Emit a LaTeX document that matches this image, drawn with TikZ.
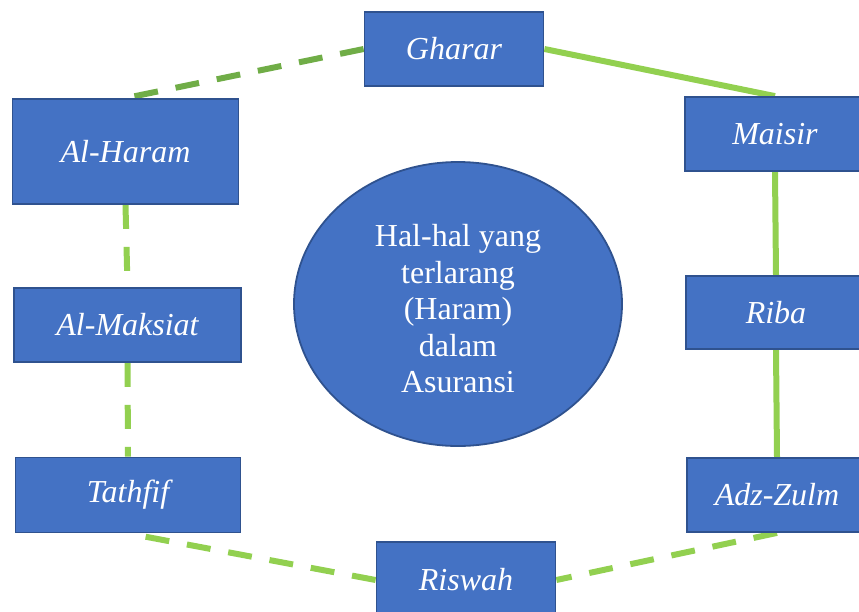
\documentclass[tikz,border=0pt]{standalone}
\usepackage{fontspec}
\setmainfont{Liberation Serif}
\usetikzlibrary{shapes.geometric,backgrounds}
\definecolor{boxfill}{HTML}{4472C4}
\definecolor{boxedge}{HTML}{2F528F}
\definecolor{darkgreen}{HTML}{70AD47}
\definecolor{lightgreen}{HTML}{92D050}
\tikzset{
  itembox/.style={rectangle, draw=boxedge, fill=boxfill, line width=1.8pt,
    inner sep=0pt, text=white, font=\fontsize{32}{38}\selectfont\itshape},
  centerell/.style={ellipse, draw=boxedge, fill=boxfill, line width=1.8pt,
    inner sep=0pt},
  centertxt/.style={text=white, align=center, inner sep=0pt,
    font=\fontsize{32}{36.5}\selectfont},
  dashlink/.style={line width=6pt, dash pattern=on 24pt off 18pt},
  solidlink/.style={line width=6pt, draw=lightgreen},
}
\begin{document}
\begin{tikzpicture}[x=1pt,y=-1pt]
\useasboundingbox (0,0) rectangle (859,611);
\clip (0,0) rectangle (859,611);
% boxes
\node[itembox, minimum width=179pt, minimum height=74pt] (gharar) at (454,49) {Gharar};
\node[itembox, minimum width=226pt, minimum height=105pt] (haram) at (125.5,151.5) {\raisebox{-3pt}{Al-Haram}};
\node[itembox, minimum width=227pt, minimum height=74pt] (maksiat) at (127.5,325) {Al-Maksiat};
\node[itembox, minimum width=225pt, minimum height=75pt] (tathfif) at (128,495) {Tathfif};
\node[itembox, minimum width=179pt, minimum height=76pt] (riswah) at (466,580) {Riswah};
\node[itembox, minimum width=180pt, minimum height=74pt] (maisir) at (775,134) {Maisir};
\node[itembox, minimum width=180pt, minimum height=73pt] (riba) at (776,312.5) {Riba};
\node[itembox, minimum width=180pt, minimum height=74pt] (zulm) at (777,495) {Adz-Zulm};
\node[centerell, minimum width=328pt, minimum height=284pt] (center) at (458,304) {};
\node[centertxt] (centertext) at (458,309)
  {Hal-hal yang\\terlarang\\(Haram)\\dalam\\Asuransi};
% connectors
\begin{scope}[on background layer]
\draw[dashlink, draw=darkgreen] (gharar.west) -- (haram.north);
\draw[solidlink] (gharar.east) -- (maisir.north);
\draw[solidlink] (maisir.south) -- (riba.north);
\draw[solidlink] (riba.south) -- (zulm.north);
\draw[dashlink, draw=lightgreen] (zulm.south) -- (riswah.east);
\draw[dashlink, draw=lightgreen] (riswah.west) -- (tathfif.south);
\draw[dashlink, draw=lightgreen] (haram.south) -- (maksiat.north);
\draw[dashlink, draw=lightgreen] (maksiat.south) -- (tathfif.north);
\end{scope}
\end{tikzpicture}
\end{document}
